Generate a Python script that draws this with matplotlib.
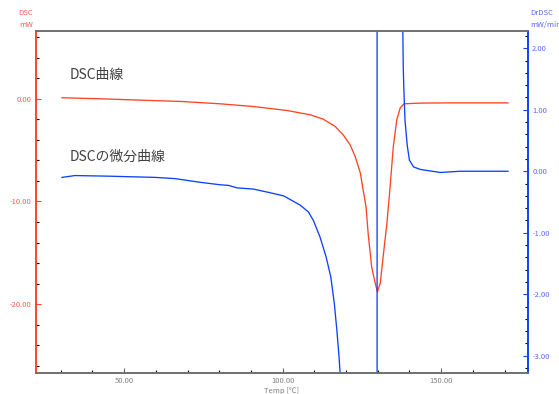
import matplotlib.pyplot as plt
from matplotlib.ticker import MultipleLocator, FormatStrFormatter

plt.rcParams['font.family'] = ['Noto Sans CJK JP', 'DejaVu Sans']

# DSC curve (mW) vs temperature
dsc_temp = [30.4, 42.4, 52.0, 68.0, 80.3, 90.7, 101.4, 108.7, 112.8, 116.6, 119.1,
            121.3, 122.9, 124.5, 125.4, 126.3, 127.0, 128.1, 129.2, 129.9, 130.8,
            131.7, 132.9, 133.9, 134.9, 136.0, 137.1, 138.3, 143.4, 151.9, 171.1]
dsc_vals = [0.1, 0.0, -0.1, -0.26, -0.49, -0.75, -1.14, -1.56, -1.98, -2.70, -3.51,
            -4.49, -5.63, -7.22, -8.88, -10.5, -13.2, -16.4, -17.95, -18.8, -17.95,
            -15.4, -12.1, -8.6, -4.7, -2.05, -0.88, -0.49, -0.42, -0.4, -0.4]

# derivative curve (mW/min) vs temperature
dr_temp = [30.4, 34.5, 45.0, 59.8, 66.1, 74.0, 80.3, 82.9, 85.6, 90.8, 96.1,
           100.3, 102.4, 105.5, 108.1, 109.7, 111.8, 113.7, 115.2, 116.3, 117.1,
           117.8, 118.1, 121.0, 125.0, 129.8, 129.8, 133.0, 136.0, 137.85, 138.05,
           138.25, 138.6, 139.3, 140.0, 141.3, 143.4, 149.7, 156.0, 171.1]
dr_vals = [-0.10, -0.07, -0.08, -0.10, -0.12, -0.18, -0.22, -0.23, -0.27, -0.29, -0.35,
           -0.40, -0.46, -0.55, -0.66, -0.80, -1.07, -1.39, -1.72, -2.15, -2.58,
           -3.02, -3.26, -6.0, -12.0, -40.0, 40.0, 12.0, 5.0, 2.6, 1.69,
           1.31, 0.83, 0.42, 0.18, 0.07, 0.03, -0.02, 0.0, 0.0]

red = '#ff4422'
blue = '#1040ff'
red_txt = '#ff5a5a'
blue_txt = '#5a6aff'
gray = '#808080'

fig = plt.figure(figsize=(5.59, 3.94), dpi=100)
ax = fig.add_axes([36 / 559, 1 - 373 / 394, 492 / 559, 342 / 394])
ax2 = ax.twinx()

ax.plot(dsc_temp, dsc_vals, color=red, lw=0.95)
ax2.plot(dr_temp, dr_vals, color=blue, lw=0.95)

ax.set_xlim(22.2, 177.4)
ax.set_ylim(-26.7, 6.6)
ax2.set_ylim(-3.28, 2.28)

ax.xaxis.set_major_locator(MultipleLocator(50))
ax.xaxis.set_minor_locator(MultipleLocator(10))
ax.xaxis.set_major_formatter(FormatStrFormatter('%.2f'))
ax.yaxis.set_major_locator(MultipleLocator(10))
ax.yaxis.set_minor_locator(MultipleLocator(2))
ax.yaxis.set_major_formatter(FormatStrFormatter('%.2f'))
ax2.yaxis.set_major_locator(MultipleLocator(1))
ax2.yaxis.set_minor_locator(MultipleLocator(0.2))
ax2.yaxis.set_major_formatter(FormatStrFormatter('%.2f'))

for a in (ax, ax2):
    a.tick_params(which='both', direction='in', labelsize=5.5, pad=3)
    a.tick_params(which='major', length=3.5, width=0.8)
    a.tick_params(which='minor', length=2, width=0.8)
    for s in a.spines.values():
        s.set_linewidth(1.2)
    a.spines['top'].set_color('#707070')
    a.spines['bottom'].set_color('#707070')
    a.spines['left'].set_color(red)
    a.spines['right'].set_color(blue)

ax.tick_params(axis='x', colors='#606060', labelcolor=gray)
ax.tick_params(axis='y', colors=red, labelcolor=red_txt)
ax2.tick_params(axis='y', colors=blue, labelcolor=blue_txt)

ax.set_xlabel('Temp [℃]', fontsize=5.5, color=gray, labelpad=1)

# axis unit labels above the y axes
fig.text(33 / 559, 1 - 13 / 394, 'DSC', color=red_txt, fontsize=5.5, ha='right', va='center')
fig.text(33 / 559, 1 - 25 / 394, 'mW', color=red_txt, fontsize=5.5, ha='right', va='center')
fig.text(530 / 559, 1 - 13 / 394, 'DrDSC', color=blue_txt, fontsize=5.5, ha='left', va='center')
fig.text(530 / 559, 1 - 25 / 394, 'mW/min', color=blue_txt, fontsize=5.5, ha='left', va='center')

# curve names
fig.text(70 / 559, 1 - 75 / 394, 'DSC曲線', color='#404040', fontsize=10, va='center')
fig.text(70 / 559, 1 - 157 / 394, 'DSCの微分曲線', color='#404040', fontsize=10, va='center')

fig.savefig('out.png', dpi=100)
